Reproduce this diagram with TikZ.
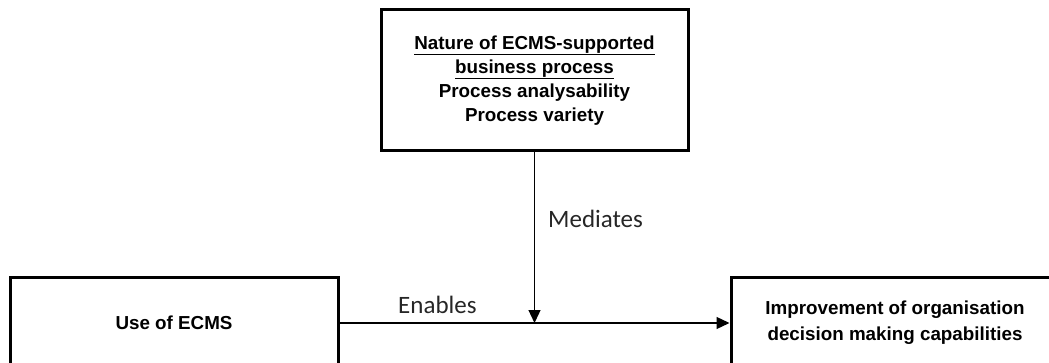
\documentclass[tikz,border=0pt]{standalone}
\usepackage{fontspec}
\setmainfont{Liberation Sans}
\newfontfamily\labelfont{Carlito}
\usetikzlibrary{arrows.meta}

\tikzset{
  box/.style={draw=black, line width=3pt, fill=white, align=center,
    inner sep=0pt, font=\fontsize{18.8}{24}\selectfont\bfseries},
  link/.style={draw=black, line width=1.3pt,
    -{Triangle[length=13pt,width=12pt]}},
  edgelabel/.style={font=\fontsize{25}{30}\selectfont\labelfont,
    text=black!85, inner sep=0pt, anchor=base west}
}

\begin{document}
\begin{tikzpicture}[x=1pt, y=-1pt]
  \useasboundingbox (0,0) rectangle (1049,363);
  \clip (0,0) rectangle (1049,363);

  % mediating construct
  \node[box, minimum width=307pt, minimum height=141pt] (nature) at (534.5,80.5)
    {\underline{Nature of ECMS-supported}\\
     \underline{business process}\\
     Process analysability\\
     Process variety};

  % antecedent and outcome
  \node[box, minimum width=328pt, minimum height=90pt] (use) at (174,323)
    {Use of ECMS};
  \node[box, minimum width=328pt, minimum height=90pt, font=\fontsize{18.8}{26}\selectfont\bfseries]
    (impr) at (895,323)
    {Improvement of organisation\\ decision making capabilities};

  % connectors
  \coordinate (meet) at (nature.south |- use.east);
  \draw[link] (use.east) -- (impr.west);
  \draw[link] (nature.south) -- (meet);

  % connector labels
  \node[edgelabel] (enables) at (398,313) {Enables};
  \node[edgelabel] (mediates) at (548,228) {Mediates};
\end{tikzpicture}
\end{document}
